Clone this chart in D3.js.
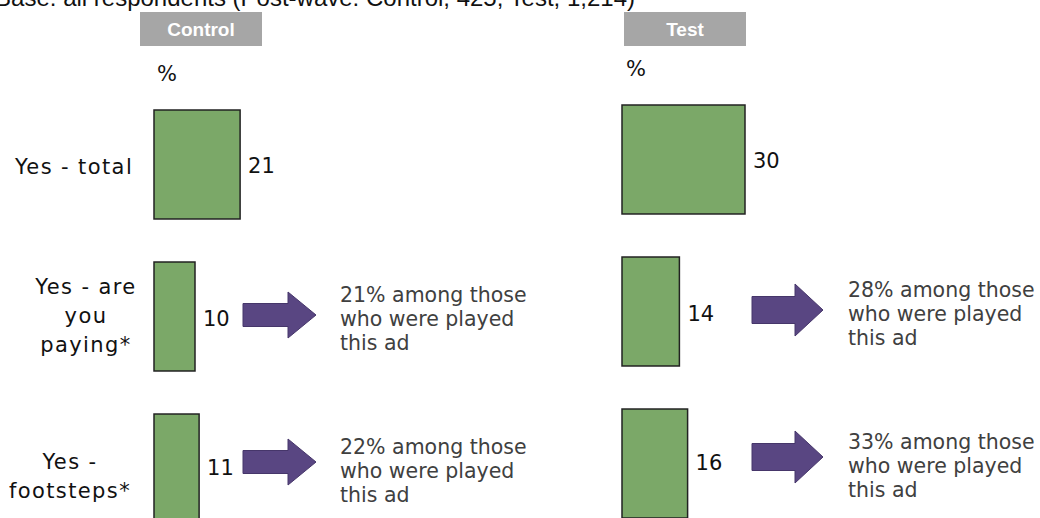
<!DOCTYPE html>
<html>
<head>
<meta charset="utf-8">
<script src="https://cdn.jsdelivr.net/npm/d3@7"></script>
<style>
  body { margin: 0; background: #fff; }
  svg { display: block; }
</style>
</head>
<body>
<svg id="chart"></svg>
<script>
// data
var categories = ["Yes - total", "Yes - are you paying*", "Yes - footsteps*"];
var categoryLines = [["Yes - total"], ["Yes - are", "you", "paying*"], ["Yes -", "footsteps*"]];
var groups = ["Control", "Test"];
var controlValues = [21, 10, 11];
var testValues = [30, 14, 16];
var controlNotes = [null,
    ["21% among those", "who were played", "this ad"],
    ["22% among those", "who were played", "this ad"]];
var testNotes = [null,
    ["28% among those", "who were played", "this ad"],
    ["33% among those", "who were played", "this ad"]];
var baseText = "Base: all respondents (Post-wave: Control, 425; Test, 1,214)";

var width = 1040, height = 518;

var svg = d3.select("#chart")
    .attr("width", width)
    .attr("height", height);

var panels = [
    { name: groups[0], values: controlValues, notes: controlNotes, x0: 154, dy: 5,
      headX: 140, pctX: 157, pctY: 74, arrowX: 243, noteX: 340,
      arrow: { len: 73, headLen: 28, shaft: 23, head: 46 } },
    { name: groups[1], values: testValues, notes: testNotes, x0: 622, dy: 0,
      headX: 624, pctX: 626, pctY: 69, arrowX: 752, noteX: 848,
      arrow: { len: 71, headLen: 28, shaft: 27, head: 52 } }
];

// bar width is proportional to the value
var x = d3.scaleLinear().domain([0, 30]).range([0, 123]);

// rows
var y = d3.scaleBand()
    .domain(categories)
    .range([105, 518])
    .paddingInner(0.283)
    .paddingOuter(0);

// title line, cut off at the top like the slide
svg.append("text")
    .attr("x", 635)
    .attr("y", 6)
    .attr("text-anchor", "end")
    .style("font-family", "'Liberation Sans', Arial, sans-serif")
    .style("font-size", "24px")
    .attr("fill", "#111")
    .text(baseText);

// category labels on the left
var labelCx = [74, 86, 70];
var labelDy = [57, 54, 62];
categories.forEach(function (c, i) {
    var lines = categoryLines[i];
    var cy = y(c) + 5 + labelDy[i];
    var t = svg.append("text")
        .attr("text-anchor", "middle")
        .style("font-family", "'DejaVu Sans', Verdana, sans-serif")
        .style("font-size", "21px")
        .style("letter-spacing", "1.4px")
        .attr("fill", "#111");
    lines.forEach(function (l, k) {
        t.append("tspan")
            .attr("x", labelCx[i])
            .attr("y", cy + (k - (lines.length - 1) / 2) * 29)
            .attr("dy", "0.35em")
            .text(l);
    });
});

panels.forEach(function (p) {
    var g = svg.append("g");

    // header box
    g.append("rect")
        .attr("x", p.headX)
        .attr("y", 12)
        .attr("width", 122)
        .attr("height", 34)
        .attr("fill", "#a6a6a6");
    g.append("text")
        .attr("x", p.headX + 61)
        .attr("y", 29)
        .attr("dy", "0.35em")
        .attr("text-anchor", "middle")
        .style("font-family", "'Liberation Sans', Arial, sans-serif")
        .style("font-size", "19px")
        .style("font-weight", "bold")
        .attr("fill", "#fff")
        .text(p.name);

    g.append("text")
        .attr("x", p.pctX)
        .attr("y", p.pctY)
        .attr("dy", "0.35em")
        .style("font-family", "'DejaVu Sans', Verdana, sans-serif")
        .style("font-size", "21px")
        .attr("fill", "#111")
        .text("%");

    // bars
    g.selectAll(".bar")
        .data(p.values)
        .enter().append("rect")
        .attr("class", "bar")
        .attr("x", p.x0)
        .attr("y", function (d, i) { return y(categories[i]) + p.dy; })
        .attr("width", function (d) { return x(d); })
        .attr("height", y.bandwidth())
        .attr("fill", "#7ba868")
        .attr("stroke", "#222")
        .attr("stroke-width", 1.5);

    // value labels
    var valDy = [56, 57, 54];
    g.selectAll(".val")
        .data(p.values)
        .enter().append("text")
        .attr("class", "val")
        .attr("x", function (d) { return p.x0 + x(d) + 8; })
        .attr("y", function (d, i) { return y(categories[i]) + p.dy + valDy[i]; })
        .attr("dy", "0.35em")
        .style("font-family", "'DejaVu Sans', Verdana, sans-serif")
        .style("font-size", "21px")
        .attr("fill", "#111")
        .text(function (d) { return d; });

    // arrows + notes
    var a = p.arrow;
    var arrowDy = [0, 53, 48];
    p.notes.forEach(function (n, i) {
        if (!n) return;
        var top = y(categories[i]) + p.dy;
        var cy = top + arrowDy[i];
        var x1 = p.arrowX, xh = p.arrowX + a.len - a.headLen, xt = p.arrowX + a.len;
        var path = d3.path();
        path.moveTo(x1, cy - a.shaft / 2);
        path.lineTo(xh, cy - a.shaft / 2);
        path.lineTo(xh, cy - a.head / 2);
        path.lineTo(xt, cy);
        path.lineTo(xh, cy + a.head / 2);
        path.lineTo(xh, cy + a.shaft / 2);
        path.lineTo(x1, cy + a.shaft / 2);
        path.closePath();
        g.append("path")
            .attr("d", path.toString())
            .attr("fill", "#594682")
            .attr("stroke", "#46366a")
            .attr("stroke-width", 1);

        var t = g.append("text")
            .style("font-family", "'DejaVu Sans', Verdana, sans-serif")
            .style("font-size", "20.5px")
            .attr("fill", "#404040");
        n.forEach(function (l, k) {
            t.append("tspan")
                .attr("x", p.noteX)
                .attr("y", top + 57 + (k - 1) * 24)
                .attr("dy", "0.35em")
                .text(l);
        });
    });
});
</script>
</body>
</html>
